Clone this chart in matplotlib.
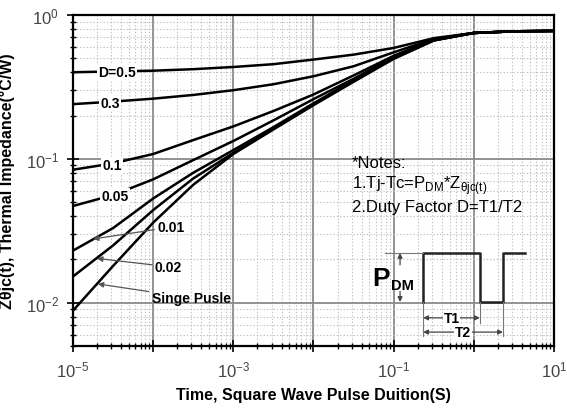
import numpy as np
import matplotlib
matplotlib.use("Agg")
import matplotlib.pyplot as plt
from matplotlib.ticker import LogLocator, FixedLocator, FuncFormatter, NullFormatter

plt.rcParams['font.family'] = ['Liberation Sans', 'DejaVu Sans']
plt.rcParams['mathtext.fontset'] = 'custom'
plt.rcParams['mathtext.rm'] = 'Liberation Sans'
plt.rcParams['mathtext.bf'] = 'Liberation Sans:bold'

# --- data (pulse width in s, Zthjc in C/W) ---
log_t = [-5, -4.5, -4, -3.5, -3, -2.5, -2, -1.5, -1, -0.5, 0, 0.5, 1]
z_d05 = [0.40, 0.405, 0.41, 0.42, 0.435, 0.455, 0.49, 0.53, 0.59, 0.69, 0.75, 0.77, 0.775]
z_d03 = [0.24, 0.25, 0.262, 0.278, 0.30, 0.33, 0.375, 0.44, 0.55, 0.68, 0.75, 0.77, 0.775]
z_d01 = [0.084, 0.093, 0.108, 0.135, 0.168, 0.215, 0.28, 0.38, 0.52, 0.675, 0.75, 0.77, 0.775]
z_d005 = [0.047, 0.056, 0.072, 0.098, 0.133, 0.185, 0.26, 0.36, 0.51, 0.67, 0.75, 0.77, 0.775]
z_d001 = [0.023, 0.033, 0.053, 0.080, 0.115, 0.166, 0.243, 0.352, 0.503, 0.668, 0.75, 0.77, 0.775]
z_d002 = [0.0152, 0.025, 0.044, 0.073, 0.110, 0.162, 0.24, 0.348, 0.50, 0.666, 0.75, 0.77, 0.775]
z_single = [0.0088, 0.018, 0.036, 0.066, 0.108, 0.160, 0.236, 0.343, 0.495, 0.664, 0.75, 0.77, 0.775]

t = 10.0 ** np.array(log_t)

fig = plt.figure(figsize=(5.67, 4.10), dpi=100)
ax = fig.add_axes([0.1287, 0.1537, 0.8483, 0.8073])
ax.set_xscale('log')
ax.set_yscale('log')
ax.set_xlim(1e-5, 10)
ax.set_ylim(0.005, 1)

# grid: solid at decades, dotted in between
ax.xaxis.set_major_locator(FixedLocator([1e-5, 1e-4, 1e-3, 1e-2, 1e-1, 1, 10]))
ax.yaxis.set_major_locator(FixedLocator([1e-2, 1e-1, 1]))
ax.xaxis.set_minor_locator(LogLocator(base=10, subs=np.arange(2, 10), numticks=20))
ax.yaxis.set_minor_locator(LogLocator(base=10, subs=np.arange(2, 10), numticks=20))
ax.grid(True, which='major', color='#8a8a8a', lw=1.3, ls='-')
ax.grid(True, which='minor', color='#c0c0c0', lw=0.8, ls=(0, (1.2, 1.8)))
ax.set_axisbelow(True)

def xfmt(v, pos):
    e = int(round(np.log10(v)))
    return r'$\mathregular{10^{%d}}$' % e if e % 2 else ''

def yfmt(v, pos):
    e = int(round(np.log10(v)))
    return r'$\mathregular{10^{%d}}$' % e

ax.xaxis.set_major_formatter(FuncFormatter(xfmt))
ax.yaxis.set_major_formatter(FuncFormatter(yfmt))
ax.xaxis.set_minor_formatter(NullFormatter())
ax.yaxis.set_minor_formatter(NullFormatter())
ax.tick_params(which='major', direction='inout', length=8, width=1.2, labelsize=12,
               labelcolor='#444444', pad=6)
ax.tick_params(which='minor', direction='inout', length=5, width=1.0)
for s in ax.spines.values():
    s.set_linewidth(1.6)

curves = [z_d05, z_d03, z_d01, z_d005, z_d001, z_d002, z_single]
for z in curves:
    ax.plot(t, z, color='black', lw=1.8, solid_capstyle='round', solid_joinstyle='round')

# inline labels
lab = dict(fontsize=10, fontweight='bold', ha='center', va='center',
           bbox=dict(boxstyle='square,pad=0.1', fc='white', ec='none'))
ax.text(10 ** -4.45, 0.40, 'D=0.5', **lab)
ax.text(10 ** -4.54, 0.245, '0.3', **lab)
ax.text(10 ** -4.51, 0.090, '0.1', **lab)
ax.text(10 ** -4.47, 0.055, '0.05', **lab)

arr = dict(arrowstyle='-|>', color='#555555', lw=0.9, mutation_scale=8, shrinkA=0, shrinkB=0)
ax.annotate('0.01', xy=(10 ** -4.75, 0.0277), xytext=(10 ** -3.95, 0.0335),
            fontsize=10, fontweight='bold', ha='left', va='center', arrowprops=arr)
ax.annotate('0.02', xy=(10 ** -4.7, 0.0203), xytext=(10 ** -3.98, 0.0178),
            fontsize=10, fontweight='bold', ha='left', va='center', arrowprops=arr)
ax.annotate('Singe Pusle', xy=(10 ** -4.69, 0.0135), xytext=(10 ** -4.02, 0.0108),
            fontsize=10, fontweight='bold', ha='left', va='center', arrowprops=arr)

# notes
ax.text(0.580, 0.555, '*Notes:', transform=ax.transAxes, fontsize=12, va='center')
ax.text(0.580, 0.488, r'1.Tj-Tc=P$_{\mathregular{DM}}$*Z$_{\mathregular{θjc(t)}}$',
        transform=ax.transAxes, fontsize=12, va='center')
ax.text(0.580, 0.421, '2.Duty Factor D=T1/T2', transform=ax.transAxes, fontsize=12, va='center')

# pulse diagram (axes fraction)
tr = ax.transAxes
hi, lo = 0.281, 0.133
ax.plot([0.728, 0.728, 0.846, 0.846, 0.894, 0.894, 0.940],
        [lo, hi, hi, lo, lo, hi, hi], transform=tr, color='#222222', lw=1.8)
ax.plot([0.649, 0.728], [hi, hi], transform=tr, color='#777777', lw=0.8)
for xx, yb in [(0.728, 0.03), (0.846, 0.07), (0.894, 0.03)]:
    ax.plot([xx, xx], [lo, yb], transform=tr, color='#777777', lw=0.8)
small = dict(arrowstyle='-|>', color='#444444', lw=0.9, mutation_scale=7, shrinkA=0, shrinkB=0)
ax.annotate('', xy=(0.680, hi), xytext=(0.680, 0.245), xycoords=tr, textcoords=tr, arrowprops=small)
ax.annotate('', xy=(0.680, lo), xytext=(0.680, 0.165), xycoords=tr, textcoords=tr, arrowprops=small)
ax.text(0.622, 0.205, 'P', transform=tr, fontsize=19, fontweight='bold', ha='left', va='center')
ax.text(0.661, 0.185, 'DM', transform=tr, fontsize=10.5, fontweight='bold', ha='left', va='center')

dbl = dict(arrowstyle='<|-|>', color='#444444', lw=0.9, mutation_scale=7, shrinkA=0, shrinkB=0)
ax.annotate('', xy=(0.728, 0.085), xytext=(0.846, 0.085), xycoords=tr, textcoords=tr, arrowprops=dbl)
ax.annotate('', xy=(0.728, 0.042), xytext=(0.894, 0.042), xycoords=tr, textcoords=tr, arrowprops=dbl)
tb = dict(boxstyle='square,pad=0.05', fc='white', ec='none')
ax.text(0.787, 0.085, 'T1', transform=tr, fontsize=10, fontweight='bold', ha='center', va='center', bbox=tb)
ax.text(0.811, 0.042, 'T2', transform=tr, fontsize=10, fontweight='bold', ha='center', va='center', bbox=tb)

ax.set_xlabel('Time, Square Wave Pulse Duition(S)', fontsize=11.5, fontweight='bold', labelpad=5)
ax.set_ylabel('Zθjc(t), Thermal Impedance(°C/W)', fontsize=11.5, fontweight='bold', labelpad=8)

fig.savefig('out.png', dpi=100)
